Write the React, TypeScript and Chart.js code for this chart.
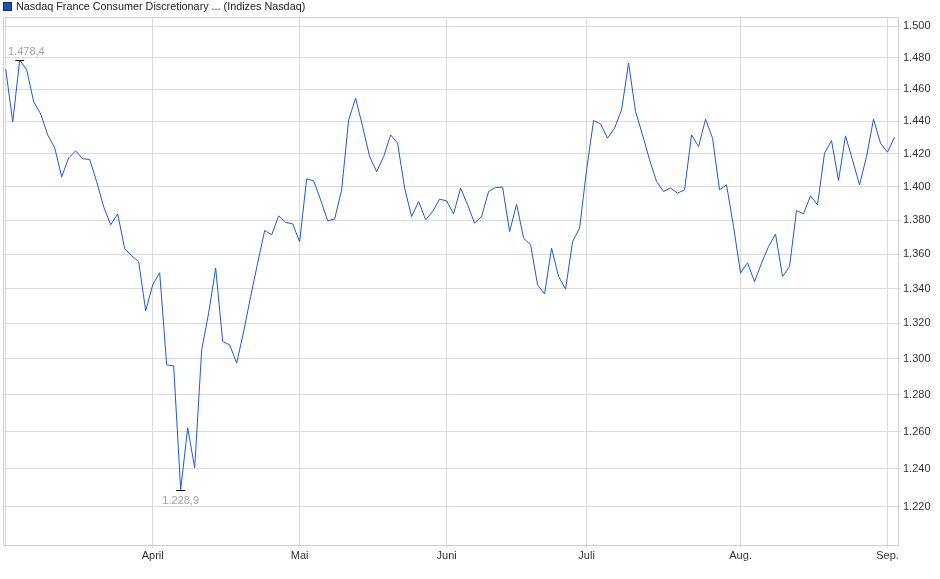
import { useEffect, useRef } from "react";
import { Chart, registerables, type Plugin } from "chart.js";

Chart.register(...registerables);

// closing values, one per US trading day, 3 Mar 2025 .. 3 Sep 2025
const values = [
  1472.6, 1439.6, 1478.4, 1472.1, 1452.0, 1444.5, 1431.5, 1423.6, 1405.9, 1417.5,
  1421.7, 1416.9, 1416.5, 1402.9, 1387.9, 1377.2, 1383.7, 1363.1, 1359.0, 1355.5,
  1327.2, 1342.1, 1349.1, 1296.7, 1296.1, 1228.9, 1262.1, 1240.5, 1305.1, 1326.0,
  1351.8, 1309.8, 1307.9, 1297.7, 1315.4, 1335.4, 1354.7, 1373.8, 1371.3, 1382.5,
  1378.6, 1377.8, 1367.2, 1404.7, 1403.5, 1392.1, 1379.6, 1380.6, 1398.1, 1440.8,
  1454.3, 1436.7, 1418.2, 1409.1, 1418.2, 1431.5, 1426.4, 1399.1, 1382.1, 1391.1,
  1380.2, 1385.1, 1392.5, 1391.5, 1383.7, 1399.1, 1389.1, 1378.2, 1382.1, 1397.1,
  1399.5, 1399.7, 1373.2, 1389.5, 1369.3, 1365.4, 1342.1, 1336.9, 1363.5, 1346.9,
  1339.6, 1367.3, 1375.2, 1410.2, 1440.4, 1438.3, 1429.5, 1435.7, 1447.0, 1476.4,
  1446.0, 1431.5, 1416.2, 1403.1, 1397.1, 1399.1, 1396.1, 1398.1, 1431.5, 1424.4,
  1441.2, 1429.5, 1398.1, 1401.1, 1376.2, 1348.9, 1354.9, 1344.0, 1354.7, 1364.4,
  1371.7, 1346.9, 1352.7, 1385.7, 1383.7, 1394.5, 1389.1, 1420.3, 1428.0, 1403.7,
  1430.9, 1416.2, 1401.1, 1418.2, 1441.2, 1426.4, 1420.9, 1430.1,
];

// index of the first trading day of each month
const monthTicks = [0, 21, 42, 63, 83, 105, 126];
const monthLabels = ["", "April", "Mai", "Juni", "Juli", "Aug.", "Sep."];
const yTicks = [
  1220, 1240, 1260, 1280, 1300, 1320, 1340, 1360, 1380, 1400, 1420, 1440, 1460, 1480, 1500,
];

const TITLE = "Nasdaq France Consumer Discretionary ... (Indizes Nasdaq)";
const LINE = "#1f5bc6";
const GRID = "#dadada";
const FONT = "'Liberation Sans', Arial, sans-serif";

function fmtDe(v: number, dec: number) {
  const [int, frac] = v.toFixed(dec).split(".");
  const head = int.replace(/\B(?=(\d{3})+(?!\d))/g, ".");
  return frac ? head + "," + frac : head;
}

// frame round the plot + high/low markers
const extremesPlugin: Plugin<"line"> = {
  id: "extremes",
  beforeDatasetsDraw(chart) {
    const { ctx, chartArea: a } = chart;
    ctx.save();
    ctx.strokeStyle = "#d0d0d0";
    ctx.lineWidth = 1;
    ctx.beginPath();
    ctx.moveTo(Math.round(a.left) + 0.5, Math.round(a.bottom) + 0.5);
    ctx.lineTo(Math.round(a.left) + 0.5, Math.round(a.top) + 0.5);
    ctx.lineTo(Math.round(a.right) + 0.5, Math.round(a.top) + 0.5);
    ctx.stroke();
    ctx.restore();
  },
  afterDatasetsDraw(chart) {
    const { ctx, chartArea: a } = chart;
    const xs = chart.scales.x;
    const ys = chart.scales.y;
    const hi = values.indexOf(Math.max(...values));
    const lo = values.indexOf(Math.min(...values));
    ctx.save();
    ctx.font = `11px ${FONT}`;
    ctx.lineWidth = 1;
    const mark = (i: number, above: boolean) => {
      const px = xs.getPixelForValue(i);
      const py = Math.round(ys.getPixelForValue(values[i])) + 0.5;
      ctx.strokeStyle = "#111";
      ctx.beginPath();
      ctx.moveTo(px - 4.5, py);
      ctx.lineTo(px + 4.5, py);
      ctx.stroke();
      const txt = fmtDe(values[i], 1);
      const w = ctx.measureText(txt).width;
      let tx = px - w / 2;
      if (tx < a.left + 5) tx = a.left + 5;
      ctx.fillStyle = "#a3a3a3";
      ctx.textBaseline = "middle";
      ctx.textAlign = "left";
      ctx.fillText(txt, tx, above ? py - 9 : py + 10);
    };
    mark(hi, true);
    mark(lo, false);
    ctx.restore();
  },
};

export default function App() {
  const canvasRef = useRef<HTMLCanvasElement>(null);
  const chartRef = useRef<Chart<"line"> | null>(null);

  useEffect(() => {
    if (!canvasRef.current) return;
    chartRef.current?.destroy();
    Chart.defaults.font.family = FONT;

    chartRef.current = new Chart(canvasRef.current, {
      type: "line",
      data: {
        datasets: [
          {
            data: values.map((v, i) => ({ x: i, y: v })),
            borderColor: LINE,
            borderWidth: 1,
            pointRadius: 0,
            tension: 0,
            fill: false,
          },
        ],
      },
      options: {
        responsive: false,
        animation: false,
        layout: { padding: { top: 17, left: 3, right: 0, bottom: 0 } },
        plugins: { legend: { display: false }, tooltip: { enabled: false } },
        scales: {
          x: {
            type: "linear",
            min: -0.39,
            max: 127.5,
            afterBuildTicks: (axis) => {
              axis.ticks = monthTicks.map((value) => ({ value }));
            },
            afterFit: (axis) => {
              axis.height = 34;
            },
            grid: { color: GRID, tickLength: 3 },
            border: { color: "#cfcfcf" },
            ticks: {
              callback: (_v, i) => monthLabels[i] ?? "",
              autoSkip: false,
              maxRotation: 0,
              padding: 1,
              color: "#333",
              font: { size: 11 },
            },
          },
          y: {
            type: "logarithmic",
            position: "right",
            min: 1200,
            max: 1506,
            afterBuildTicks: (axis) => {
              axis.ticks = yTicks.map((value) => ({ value }));
            },
            afterFit: (axis) => {
              axis.width = 42;
            },
            grid: { color: GRID, tickLength: 3 },
            border: { color: "#cfcfcf" },
            ticks: {
              callback: (v) => fmtDe(Number(v), 0),
              autoSkip: false,
              padding: 2,
              color: "#333",
              font: { size: 11 },
            },
          },
        },
      },
      plugins: [extremesPlugin],
    });

    return () => {
      chartRef.current?.destroy();
      chartRef.current = null;
    };
  }, []);

  return (
    <div
      style={{
        position: "absolute",
        left: 0,
        top: 0,
        width: 940,
        height: 579,
        background: "#fff",
        fontFamily: FONT,
      }}
    >
      <canvas ref={canvasRef} width={940} height={579} />
      {/* series caption */}
      <div
        style={{
          position: "absolute",
          left: 3,
          top: 0,
          display: "flex",
          alignItems: "center",
          fontSize: 10.8,
          lineHeight: "12px",
          color: "#222",
          whiteSpace: "nowrap",
        }}
      >
        <span
          style={{
            display: "inline-block",
            width: 7,
            height: 7,
            background: "#1d50b8",
            border: "1px solid #0f2f72",
            marginRight: 4,
          }}
        />
        <span>{TITLE}</span>
      </div>
    </div>
  );
}
